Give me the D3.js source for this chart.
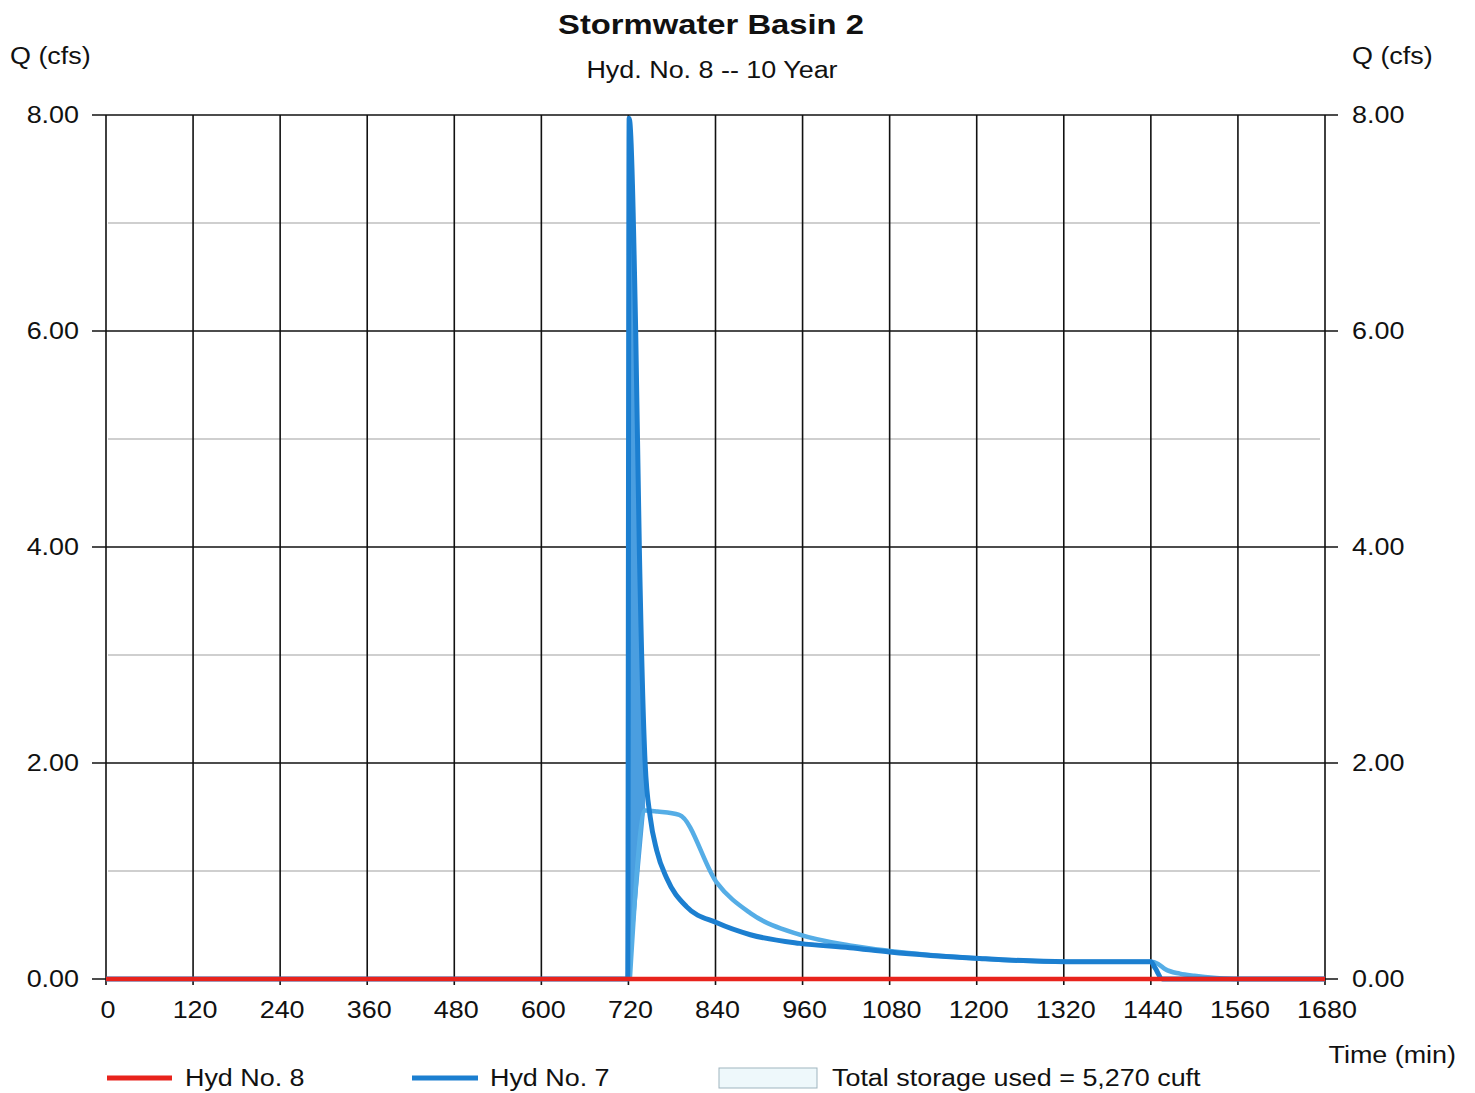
<!DOCTYPE html>
<html>
<head>
<meta charset="utf-8">
<script src="https://cdn.jsdelivr.net/npm/d3@7"></script>
<style>
  body { margin: 0; background: #fff; }
  svg { font-family: "Liberation Sans", Arial, sans-serif; }
</style>
</head>
<body>
<svg width="1475" height="1093"></svg>
<script>
// x ticks (min) and y ticks (cfs)
const xTicks = [0, 120, 240, 360, 480, 600, 720, 840, 960, 1080, 1200, 1320, 1440, 1560, 1680];
const yMajor = [0, 2, 4, 6, 8];
const yMinor = [1, 3, 5, 7];

// Hyd No. 8 (outflow) stays at zero
const hyd8Time = [0, 1680];
const hyd8Q = [0, 0];

// Hyd No. 7 (inflow)
const hyd7Time = [0, 719, 721, 730, 735, 743, 750, 759, 773, 800, 842, 888, 956, 1025, 1080, 1204, 1322, 1440, 1446, 1456, 1680];
const hyd7Q = [0, 0, 7.97, 6.0, 4.0, 2.0, 1.5, 1.19, 0.93, 0.67, 0.52, 0.41, 0.33, 0.29, 0.25, 0.19, 0.16, 0.16, 0.10, 0, 0];

// lighter routed curve
const routedTime = [722, 743, 760, 790, 842, 888, 956, 1025, 1080, 1204, 1322, 1440, 1450, 1460, 1480, 1500, 1530, 1560, 1680];
const routedQ = [0, 1.56, 1.55, 1.52, 0.89, 0.61, 0.41, 0.31, 0.26, 0.19, 0.16, 0.16, 0.14, 0.09, 0.05, 0.03, 0.01, 0, 0];

const svg = d3.select("svg");
const x = d3.scaleLinear().domain([0, 1680]).range([106, 1325]);
const y = d3.scaleLinear().domain([0, 8]).range([979, 115]);

// scanned text is a bit wider than the font
function label(g, px, py, str, size, anchor, weight) {
  return g.append("text")
    .attr("transform", `translate(${px},${py}) scale(1.17,1)`)
    .attr("text-anchor", anchor || "start")
    .attr("font-size", size)
    .attr("font-weight", weight || "normal")
    .attr("fill", "#111")
    .text(str);
}

// minor gridlines
svg.append("g").selectAll("line").data(yMinor).enter().append("line")
  .attr("x1", 108).attr("x2", 1320)
  .attr("y1", d => y(d)).attr("y2", d => y(d))
  .attr("stroke", "#cfcfcf").attr("stroke-width", 2);

// vertical gridlines
svg.append("g").selectAll("line").data(xTicks).enter().append("line")
  .attr("x1", d => x(d)).attr("x2", d => x(d))
  .attr("y1", y(8)).attr("y2", y(0) + 6)
  .attr("stroke", "#111").attr("stroke-width", 1.6);

// major horizontal gridlines with outside ticks
svg.append("g").selectAll("line").data(yMajor).enter().append("line")
  .attr("x1", 92).attr("x2", 1338)
  .attr("y1", d => y(d)).attr("y2", d => y(d))
  .attr("stroke", "#111").attr("stroke-width", 1.6);

const labels = svg.append("g");
yMajor.forEach(d => {
  label(labels, 79, y(d) + 8, d.toFixed(2), 23, "end");
  label(labels, 1352, y(d) + 8, d.toFixed(2), 23, "start");
});
xTicks.forEach(d => label(labels, x(d) + 2, 1018, d, 23, "middle"));

const line = d3.line().x(d => x(d[0])).y(d => y(d[1])).curve(d3.curveMonotoneX);

const routed = d3.zip(routedTime, routedQ);
const hyd7 = d3.zip(hyd7Time, hyd7Q);
const hyd8 = d3.zip(hyd8Time, hyd8Q);

// shaded sliver inside the inflow spike
const spike = hyd7.filter(d => d[0] >= 719 && d[0] <= 743)
  .concat(routed.filter(d => d[0] <= 743).reverse());
svg.append("path").datum(spike)
  .attr("d", d3.line().x(d => x(d[0])).y(d => y(d[1])))
  .attr("fill", "#4a9ee0").attr("stroke", "none");

svg.append("path").datum(routed)
  .attr("d", line).attr("fill", "none")
  .attr("stroke", "#55ade6").attr("stroke-width", 4.5)
  .attr("stroke-linejoin", "round");

svg.append("path").datum(hyd7)
  .attr("d", line).attr("fill", "none")
  .attr("stroke", "#1c7fd0").attr("stroke-width", 5)
  .attr("stroke-linejoin", "round");

svg.append("path").datum(hyd8)
  .attr("d", line).attr("fill", "none")
  .attr("stroke", "#e8231c").attr("stroke-width", 4.5);

// titles
label(svg, 711, 34, "Stormwater Basin 2", 28, "middle", "bold");
label(svg, 712, 78, "Hyd. No. 8 -- 10 Year", 23, "middle");
label(svg, 10, 64, "Q (cfs)", 23, "start");
label(svg, 1352, 64, "Q (cfs)", 23, "start");
label(svg, 1456, 1063, "Time (min)", 23, "end");

// legend
const legend = svg.append("g");
legend.append("line").attr("x1", 107).attr("x2", 172).attr("y1", 1078).attr("y2", 1078)
  .attr("stroke", "#e8231c").attr("stroke-width", 5);
label(legend, 185, 1086, "Hyd No. 8", 23, "start");
legend.append("line").attr("x1", 412).attr("x2", 478).attr("y1", 1078).attr("y2", 1078)
  .attr("stroke", "#1c7fd0").attr("stroke-width", 5);
label(legend, 490, 1086, "Hyd No. 7", 23, "start");
legend.append("rect").attr("x", 719).attr("y", 1068).attr("width", 98).attr("height", 20)
  .attr("fill", "#eef8fb").attr("stroke", "#9fb5bf").attr("stroke-width", 1);
label(legend, 832, 1086, "Total storage used = 5,270 cuft", 23, "start");
</script>
</body>
</html>
